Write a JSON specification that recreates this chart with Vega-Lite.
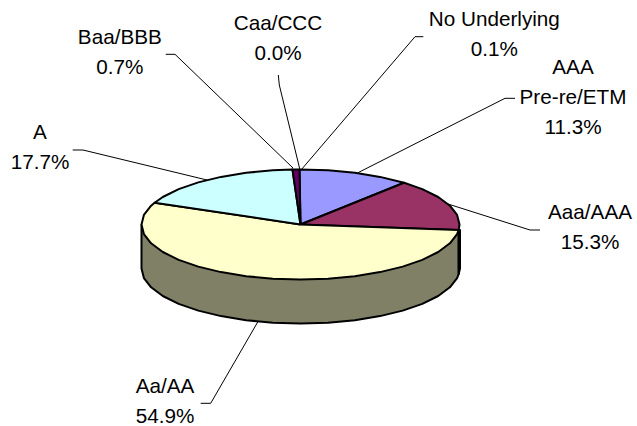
{"$schema":"https://vega.github.io/schema/vega-lite/v6.json","width":637,"height":426,"padding":0,"autosize":{"type":"none"},"background":"white","view":{"stroke":null},
"datasets":{
"outlines":[
{"slice":"Aa/AA side","seq":0,"x":-159,"y":0},{"slice":"Aa/AA side","seq":1,"x":-159,"y":-44},{"slice":"Aa/AA side","seq":2,"x":-156.6,"y":-53.6},{"slice":"Aa/AA side","seq":3,"x":-149.4,"y":-62.8},{"slice":"Aa/AA side","seq":4,"x":-137.7,"y":-71.5},{"slice":"Aa/AA side","seq":5,"x":-121.8,"y":-79.4},{"slice":"Aa/AA side","seq":6,"x":-102.2,"y":-86.1},{"slice":"Aa/AA side","seq":7,"x":-79.5,"y":-91.6},{"slice":"Aa/AA side","seq":8,"x":-54.4,"y":-95.7},{"slice":"Aa/AA side","seq":9,"x":-27.6,"y":-98.2},{"slice":"Aa/AA side","seq":10,"x":0,"y":-99},{"slice":"Aa/AA side","seq":11,"x":27.6,"y":-98.2},{"slice":"Aa/AA side","seq":12,"x":54.4,"y":-95.7},{"slice":"Aa/AA side","seq":13,"x":79.5,"y":-91.6},{"slice":"Aa/AA side","seq":14,"x":102.2,"y":-86.1},{"slice":"Aa/AA side","seq":15,"x":121.8,"y":-79.4},{"slice":"Aa/AA side","seq":16,"x":137.7,"y":-71.5},{"slice":"Aa/AA side","seq":17,"x":149.4,"y":-62.8},{"slice":"Aa/AA side","seq":18,"x":156.6,"y":-53.6},{"slice":"Aa/AA side","seq":19,"x":158.2,"y":-49.5},{"slice":"Aa/AA side","seq":20,"x":158.2,"y":-5.5},{"slice":"Aa/AA side","seq":21,"x":-159,"y":0},
{"slice":"Aaa/AAA side","seq":0,"x":158.2,"y":-5.5},{"slice":"Aaa/AAA side","seq":1,"x":159.5,"y":-5.5},{"slice":"Aaa/AAA side","seq":2,"x":159.5,"y":-44},{"slice":"Aaa/AAA side","seq":3,"x":158.2,"y":-49.5},{"slice":"Aaa/AAA side","seq":4,"x":158.2,"y":-5.5},
{"slice":"AAA Pre-re/ETM","seq":0,"x":0,"y":0},{"slice":"AAA Pre-re/ETM","seq":1,"x":-1,"y":55},{"slice":"AAA Pre-re/ETM","seq":2,"x":27.6,"y":54.2},{"slice":"AAA Pre-re/ETM","seq":3,"x":54.4,"y":51.7},{"slice":"AAA Pre-re/ETM","seq":4,"x":79.5,"y":47.6},{"slice":"AAA Pre-re/ETM","seq":5,"x":103.6,"y":41.7},{"slice":"AAA Pre-re/ETM","seq":6,"x":0,"y":0},
{"slice":"Aaa/AAA","seq":0,"x":0,"y":0},{"slice":"Aaa/AAA","seq":1,"x":103.6,"y":41.7},{"slice":"Aaa/AAA","seq":2,"x":121.8,"y":35.4},{"slice":"Aaa/AAA","seq":3,"x":137.7,"y":27.5},{"slice":"Aaa/AAA","seq":4,"x":149.4,"y":18.8},{"slice":"Aaa/AAA","seq":5,"x":156.6,"y":9.6},{"slice":"Aaa/AAA","seq":6,"x":159,"y":0},{"slice":"Aaa/AAA","seq":7,"x":158.2,"y":-5.5},{"slice":"Aaa/AAA","seq":8,"x":0,"y":0},
{"slice":"Aa/AA","seq":0,"x":0,"y":0},{"slice":"Aa/AA","seq":1,"x":158.2,"y":-5.5},{"slice":"Aa/AA","seq":2,"x":156.6,"y":-9.6},{"slice":"Aa/AA","seq":3,"x":149.4,"y":-18.8},{"slice":"Aa/AA","seq":4,"x":137.7,"y":-27.5},{"slice":"Aa/AA","seq":5,"x":121.8,"y":-35.4},{"slice":"Aa/AA","seq":6,"x":102.2,"y":-42.1},{"slice":"Aa/AA","seq":7,"x":79.5,"y":-47.6},{"slice":"Aa/AA","seq":8,"x":54.4,"y":-51.7},{"slice":"Aa/AA","seq":9,"x":27.6,"y":-54.2},{"slice":"Aa/AA","seq":10,"x":0,"y":-55},{"slice":"Aa/AA","seq":11,"x":-27.6,"y":-54.2},{"slice":"Aa/AA","seq":12,"x":-54.4,"y":-51.7},{"slice":"Aa/AA","seq":13,"x":-79.5,"y":-47.6},{"slice":"Aa/AA","seq":14,"x":-102.2,"y":-42.1},{"slice":"Aa/AA","seq":15,"x":-121.8,"y":-35.4},{"slice":"Aa/AA","seq":16,"x":-137.7,"y":-27.5},{"slice":"Aa/AA","seq":17,"x":-149.4,"y":-18.8},{"slice":"Aa/AA","seq":18,"x":-156.6,"y":-9.6},{"slice":"Aa/AA","seq":19,"x":-159,"y":0},{"slice":"Aa/AA","seq":20,"x":-156.6,"y":9.6},{"slice":"Aa/AA","seq":21,"x":-149.4,"y":18.8},{"slice":"Aa/AA","seq":22,"x":-145.9,"y":21.8},{"slice":"Aa/AA","seq":23,"x":0,"y":0},
{"slice":"A","seq":0,"x":0,"y":0},{"slice":"A","seq":1,"x":-145.9,"y":21.8},{"slice":"A","seq":2,"x":-137.7,"y":27.5},{"slice":"A","seq":3,"x":-121.8,"y":35.4},{"slice":"A","seq":4,"x":-102.2,"y":42.1},{"slice":"A","seq":5,"x":-79.5,"y":47.6},{"slice":"A","seq":6,"x":-54.4,"y":51.7},{"slice":"A","seq":7,"x":-27.6,"y":54.2},{"slice":"A","seq":8,"x":-8,"y":54.9},{"slice":"A","seq":9,"x":0,"y":0},
{"slice":"Baa/BBB","seq":0,"x":0,"y":0},{"slice":"Baa/BBB","seq":1,"x":-8,"y":54.9},{"slice":"Baa/BBB","seq":2,"x":-1,"y":55},{"slice":"Baa/BBB","seq":3,"x":0,"y":0}
],
"leaders":[
{"slice":"Baa/BBB","seq":0,"x":-134.8,"y":170.2},{"slice":"Baa/BBB","seq":1,"x":-125.5,"y":170.2},{"slice":"Baa/BBB","seq":2,"x":-7.5,"y":56.5},
{"slice":"Caa/CCC","seq":0,"x":-22.2,"y":149.5},{"slice":"Caa/CCC","seq":1,"x":-21.2,"y":139.5},{"slice":"Caa/CCC","seq":2,"x":-0.5,"y":54.5},
{"slice":"A","seq":0,"x":-227.8,"y":74.5},{"slice":"A","seq":1,"x":-217.5,"y":74.5},{"slice":"A","seq":2,"x":-93.5,"y":44.5},
{"slice":"No Underlying","seq":0,"x":122.8,"y":187.8},{"slice":"No Underlying","seq":1,"x":114.5,"y":187.8},{"slice":"No Underlying","seq":2,"x":0.5,"y":54.5},
{"slice":"AAA Pre-re/ETM","seq":0,"x":214.5,"y":126.2},{"slice":"AAA Pre-re/ETM","seq":1,"x":204.5,"y":126.2},{"slice":"AAA Pre-re/ETM","seq":2,"x":57.5,"y":51.8},
{"slice":"Aaa/AAA","seq":0,"x":239.5,"y":-5.5},{"slice":"Aaa/AAA","seq":1,"x":229.5,"y":-5.5},{"slice":"Aaa/AAA","seq":2,"x":147.5,"y":20.5},
{"slice":"Aa/AA","seq":0,"x":-99.8,"y":-178.8},{"slice":"Aa/AA","seq":1,"x":-89.8,"y":-178.8},{"slice":"Aa/AA","seq":2,"x":-42.2,"y":-96.5}
],
"labels":[
{"label":"AAA\nPre-re/ETM\n11.3%","x":272.5,"y":157},
{"label":"Aaa/AAA\n15.3%","x":289.5,"y":12},
{"label":"Aa/AA\n54.9%","x":-135.5,"y":-162.5},
{"label":"A\n17.7%","x":-260.5,"y":91.5},
{"label":"Baa/BBB\n0.7%","x":-180.7,"y":186.8},
{"label":"Caa/CCC\n0.0%","x":-22.5,"y":200.5},
{"label":"No Underlying\n0.1%","x":193.8,"y":204.5}
]},
"encoding":{
"x":{"field":"x","type":"quantitative","axis":null,"scale":{"domain":[-300.5,336.5],"nice":false,"zero":false}},
"y":{"field":"y","type":"quantitative","axis":null,"scale":{"domain":[-201.5,224.5],"nice":false,"zero":false}}
},
"layer":[
{"data":{"name":"leaders"},"mark":{"type":"line","stroke":"#000000","strokeWidth":1,"point":false},"encoding":{"detail":{"field":"slice"},"order":{"field":"seq","type":"quantitative"}}},
{"data":{"name":"outlines"},"mark":{"type":"line","stroke":"#000000","strokeWidth":2,"strokeJoin":"round","point":false},"encoding":{"detail":{"field":"slice"},"order":{"field":"seq","type":"quantitative"},"fill":{"field":"slice","type":"nominal","legend":null,"scale":{"domain":["Aa/AA side","Aaa/AAA side","AAA Pre-re/ETM","Aaa/AAA","Aa/AA","A","Baa/BBB"],"range":["#808066","#4C1933","#9999FF","#993366","#FFFFCC","#CCFFFF","#660066"]}}}},
{"data":{"name":"labels"},"mark":{"type":"text","font":"Liberation Sans","fontSize":20.7,"fill":"#000000","align":"center","baseline":"middle","lineBreak":"\n","lineHeight":30},"encoding":{"text":{"field":"label"}}}
]}
